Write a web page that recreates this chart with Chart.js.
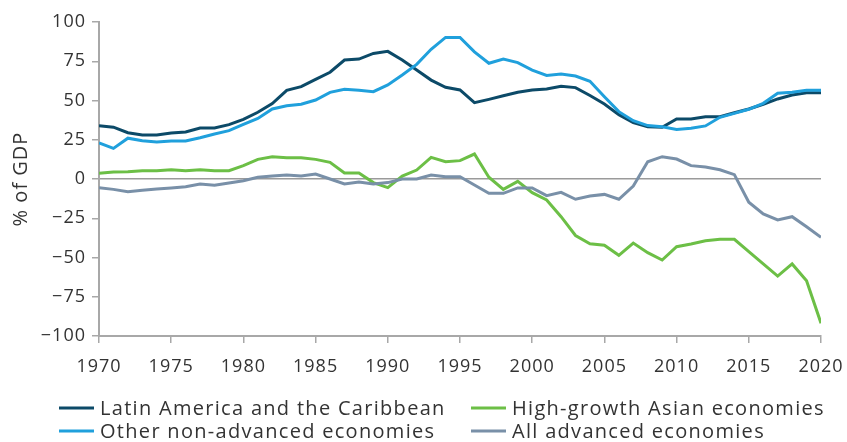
<!DOCTYPE html>
<html>
<head>
<meta charset="utf-8">
<title>% of GDP</title>
<script src="https://cdn.jsdelivr.net/npm/chart.js@4.4.0/dist/chart.umd.min.js"></script>
<style>
  html, body { margin: 0; padding: 0; background: #fff; }
  #wrap { width: 847px; height: 442px; position: relative; }
</style>
</head>
<body>
<div id="wrap"><canvas id="gdpChart" width="847" height="442"></canvas></div>
<script>
// Years 1970-2020, one value per year
const years = [];
for (let y = 1970; y <= 2020; y++) years.push(y);

const latinAmerica = [34, 33, 29.5, 28, 28, 29.3, 30, 32.5, 32.5, 34.6,
  38, 42.5, 48, 56.5, 58.8, 63.5, 68, 75.8, 76.4, 80,
  81.3, 75.8, 69.4, 63, 58.4, 56.7, 48.6, 50.7, 53, 55.2,
  56.7, 57.3, 59, 58.2, 53.2, 47.8, 41, 35.9, 33.3, 33,
  38.2, 38.2, 39.7, 39.7, 42.2, 44.6, 47.6, 51, 53.5, 55, 55];

const otherNonAdvanced = [23, 19.5, 26, 24.4, 23.6, 24.2, 24.2, 26.3, 28.7, 30.8,
  34.8, 38.6, 44.6, 46.7, 47.6, 50.3, 55.2, 57.1, 56.5, 55.6,
  59.9, 66.2, 73, 82.6, 90.2, 90.2, 81, 73.7, 76.4, 74.1,
  69.4, 66, 66.9, 65.6, 62.2, 52.4, 42.9, 37.1, 34, 33.3,
  31.6, 32.3, 33.8, 39.3, 41.8, 44.4, 48.2, 54.6, 55.2, 56.5, 56.5];

const highGrowthAsian = [3.6, 4.5, 4.6, 5.3, 5.3, 5.9, 5.3, 5.9, 5.3, 5.3,
  8.5, 12.5, 14.2, 13.6, 13.6, 12.5, 10.6, 3.8, 3.8, -2.3,
  -5.5, 1.9, 5.7, 13.8, 11, 11.7, 15.9, 1.1, -6.6, -1.5,
  -8.7, -13.4, -24, -36, -41.2, -42.2, -48.6, -40.8, -46.9, -51.6,
  -43.1, -41.4, -39.3, -38.4, -38.4, -46.3, -54.1, -61.8, -54.1, -64.8, -91.9];

const allAdvanced = [-5.5, -6.6, -8.1, -7.2, -6.4, -5.7, -4.9, -3.2, -4, -2.5,
  -1.1, 1.1, 1.9, 2.5, 1.9, 3.2, 0, -3.2, -1.9, -3.2,
  -2.3, 0, 0, 2.5, 1.5, 1.5, -3.8, -9.1, -9.1, -5.7,
  -5.7, -10.6, -8.5, -12.9, -10.8, -9.8, -12.9, -4.5, 11, 14.2,
  12.7, 8.5, 7.6, 5.9, 2.8, -14.8, -22.3, -26.1, -24, -30.4, -37.1];

const yTicks = [100, 75, 50, 25, 0, -25, -50, -75, -100];

const seriesNames = ['Latin America and the Caribbean', 'High-growth Asian economies',
  'Other non-advanced economies', 'All advanced economies'];
const seriesColors = ['#0c4a68', '#6cbf46', '#20a0dc', '#7990a8'];

const FONT = '"Open Sans", "DejaVu Sans", sans-serif';
const TEXT = '#333333';
const AXIS = '#a8a8a8';

function pts(values) {
  return values.map((v, i) => ({ x: years[i], y: v }));
}

function lineSet(idx, values) {
  return {
    label: seriesNames[idx],
    data: pts(values),
    borderColor: seriesColors[idx],
    backgroundColor: seriesColors[idx],
    borderWidth: 3,
    pointRadius: 0,
    tension: 0,
    fill: false
  };
}

// the original type is wider, so open up the tracking a little
const spacingPlugin = {
  id: 'spacing',
  beforeUpdate(chart) { chart.ctx.letterSpacing = '1px'; },
  beforeLayout(chart) { chart.ctx.letterSpacing = '1px'; },
  beforeDraw(chart) { chart.ctx.letterSpacing = '1px'; }
};

// legend drawn at the bottom in two aligned columns
const legendPlugin = {
  id: 'twoColLegend',
  afterDraw(chart) {
    const ctx = chart.ctx;
    const cols = [59, 471];
    const rows = [408, 431];
    ctx.save();
    ctx.font = '20px ' + FONT;
    ctx.letterSpacing = '1.3px';
    ctx.textBaseline = 'middle';
    seriesNames.forEach((name, i) => {
      const x = cols[i % 2];
      const y = rows[Math.floor(i / 2)];
      ctx.strokeStyle = seriesColors[i];
      ctx.lineWidth = 3;
      ctx.beginPath();
      ctx.moveTo(x, y);
      ctx.lineTo(x + 35, y);
      ctx.stroke();
      ctx.fillStyle = TEXT;
      ctx.fillText(name, x + 41, y + 1);
    });
    ctx.restore();
  }
};

const ctx = document.getElementById('gdpChart').getContext('2d');
const chart = new Chart(ctx, {
  type: 'line',
  data: {
    datasets: [
      lineSet(2, otherNonAdvanced),
      lineSet(0, latinAmerica),
      lineSet(3, allAdvanced),
      lineSet(1, highGrowthAsian)
    ]
  },
  options: {
    responsive: false,
    animation: false,
    layout: { padding: { top: 22, right: 26, bottom: 56, left: 0 } },
    plugins: { legend: { display: false }, tooltip: { enabled: false } },
    scales: {
      x: {
        type: 'linear',
        min: 1970,
        max: 2020,
        afterFit(scale) {
          scale.height = 50;
          scale.paddingLeft = 0;
          scale.paddingRight = 0;
        },
        ticks: {
          stepSize: 5,
          color: TEXT,
          font: { family: FONT, size: 18 },
          padding: 13,
          maxRotation: 0,
          callback: v => String(v)
        },
        grid: { drawOnChartArea: false, tickColor: AXIS, tickLength: 7, lineWidth: 1.5 },
        border: { color: AXIS, width: 2 }
      },
      y: {
        min: -100,
        max: 100,
        afterFit(scale) { scale.width = 99; },
        afterBuildTicks(scale) { scale.ticks = yTicks.map(v => ({ value: v })); },
        ticks: {
          color: TEXT,
          font: { family: FONT, size: 18 },
          padding: 6,
          callback: v => String(v).replace('-', '\u2212')
        },
        title: {
          display: true,
          text: '% of GDP',
          color: TEXT,
          font: { family: FONT, size: 20 },
          padding: { top: 9, bottom: 4 }
        },
        grid: {
          color: c => (c.tick && c.tick.value === 0) ? '#9a9a9a' : 'rgba(0,0,0,0)',
          lineWidth: 1.5,
          tickColor: AXIS,
          tickLength: 7
        },
        border: { color: AXIS, width: 2 }
      }
    }
  },
  plugins: [spacingPlugin, legendPlugin]
});
</script>
</body>
</html>
